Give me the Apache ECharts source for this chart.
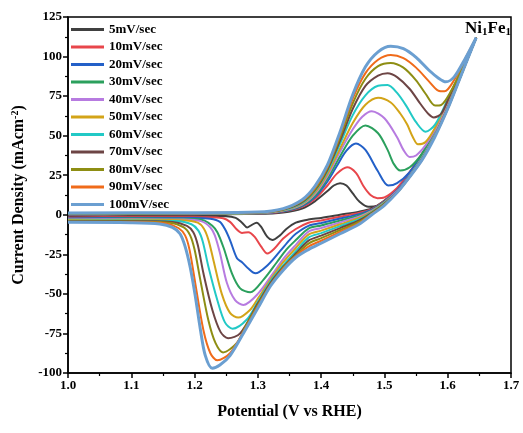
<!DOCTYPE html>
<html>
<head>
<meta charset="utf-8">
<script src="https://cdn.jsdelivr.net/npm/echarts@6/dist/echarts.min.js"></script>
<style>html,body{margin:0;padding:0;background:#fff}#c{width:523px;height:433px}</style>
</head>
<body>
<div id="c"></div>
<script>
const seriesNames = ['5mV/sec','10mV/sec','20mV/sec','30mV/sec','40mV/sec','50mV/sec','60mV/sec','70mV/sec','80mV/sec','90mV/sec','100mV/sec'];
const xTicks = [1.0,1.1,1.2,1.3,1.4,1.5,1.6,1.7];
const yTicks = [-100,-75,-50,-25,0,25,50,75,100,125];

// forward (anodic) scans [potential V, current density mA/cm2]
const fwd5 = [[1.00,0.2],[1.10,0.3],[1.20,0.3],[1.30,0.6],[1.34,1.5],[1.37,4],[1.39,8.5],[1.41,15],[1.42,18.5],[1.43,20],[1.44,18.5],[1.45,13.5],[1.46,8.5],[1.475,5],[1.49,6],[1.51,11.5],[1.53,21.5],[1.55,32.5],[1.57,45],[1.59,61],[1.61,80],[1.628,96],[1.645,112]];
const fwd10 = [[1.00,0.3],[1.20,0.4],[1.30,0.8],[1.34,2],[1.37,5],[1.39,10],[1.41,18.5],[1.425,26],[1.441,30],[1.455,26.5],[1.467,18],[1.478,12.5],[1.489,10.5],[1.50,11],[1.52,17],[1.54,27],[1.56,39],[1.58,53],[1.60,70],[1.62,89],[1.645,112]];
const fwd20 = [[1.00,0.4],[1.20,0.5],[1.30,0.9],[1.34,2.2],[1.37,5.5],[1.39,11],[1.41,21],[1.425,31],[1.44,40.5],[1.455,45],[1.47,41],[1.489,28],[1.506,18.5],[1.52,20],[1.54,27],[1.56,38.5],[1.58,53],[1.60,70],[1.62,89],[1.645,112]];
const fwd30 = [[1.00,0.5],[1.20,0.6],[1.30,1],[1.34,2.5],[1.37,6],[1.39,12],[1.41,23],[1.43,37],[1.45,50],[1.47,56.5],[1.49,51.5],[1.505,41],[1.515,32],[1.525,28],[1.54,30],[1.56,39],[1.58,53],[1.60,70],[1.62,89],[1.645,112]];
const fwd40 = [[1.00,0.6],[1.20,0.7],[1.30,1.1],[1.34,2.7],[1.37,6.5],[1.39,13],[1.41,24.5],[1.43,40],[1.45,54],[1.465,62],[1.48,65.5],[1.50,61],[1.52,49],[1.53,41],[1.54,36.5],[1.55,37.5],[1.565,44],[1.58,54],[1.60,71],[1.62,89.5],[1.645,112]];
const fwd50 = [[1.00,0.7],[1.20,0.8],[1.30,1.2],[1.34,2.9],[1.37,7],[1.39,14],[1.41,26],[1.43,42],[1.45,58],[1.47,69.5],[1.49,74],[1.51,71],[1.525,64],[1.536,57],[1.545,49],[1.553,44.5],[1.565,46],[1.58,55],[1.60,72],[1.62,90],[1.645,112]];
const fwd60 = [[1.00,0.8],[1.20,0.9],[1.30,1.3],[1.34,3.1],[1.37,7.5],[1.39,15],[1.41,27.5],[1.43,45],[1.45,63],[1.47,75.5],[1.49,81.5],[1.505,82],[1.52,77],[1.535,68.5],[1.55,58.5],[1.565,52.5],[1.58,57],[1.60,73],[1.62,90.5],[1.645,112]];
const fwd70 = [[1.00,0.9],[1.20,1],[1.30,1.4],[1.34,3.3],[1.37,8],[1.39,15.5],[1.41,28.5],[1.43,47],[1.45,67],[1.47,81.5],[1.49,88],[1.505,89.5],[1.52,87],[1.54,79.5],[1.557,70],[1.57,63.5],[1.578,61.5],[1.59,64],[1.605,77],[1.625,93],[1.645,112]];
const fwd80 = [[1.00,1],[1.20,1.1],[1.30,1.5],[1.34,3.5],[1.37,8.5],[1.39,16],[1.41,29.5],[1.43,49],[1.45,70.5],[1.47,86],[1.49,94],[1.51,96],[1.53,93],[1.55,85],[1.565,76.5],[1.58,69],[1.59,69.5],[1.605,78],[1.625,94],[1.645,112]];
const fwd90 = [[1.00,1.1],[1.20,1.2],[1.30,1.6],[1.34,3.7],[1.37,9],[1.39,17],[1.41,30.5],[1.43,51],[1.45,73.5],[1.47,89.5],[1.49,98],[1.51,101],[1.53,99],[1.55,93],[1.57,84.5],[1.585,78.5],[1.595,78],[1.61,85],[1.628,99],[1.645,112]];
const fwd100 = [[1.00,1.2],[1.20,1.3],[1.30,1.7],[1.34,3.9],[1.37,9.5],[1.39,18],[1.41,31.5],[1.43,52.5],[1.45,76],[1.47,93.5],[1.49,103],[1.51,106.5],[1.53,105],[1.55,99.5],[1.57,91.5],[1.585,86.5],[1.597,84],[1.61,87],[1.628,99],[1.645,112]];

// reverse (cathodic) scans
const rev5 = [[1.645,112],[1.62,88],[1.60,69],[1.58,52],[1.56,38],[1.54,26],[1.52,16],[1.50,9],[1.48,4],[1.46,2],[1.43,0],[1.40,-2],[1.38,-3],[1.36,-5],[1.345,-9],[1.335,-13],[1.323,-16],[1.315,-14],[1.305,-7.5],[1.298,-5],[1.29,-6.5],[1.283,-8],[1.275,-5],[1.265,-2],[1.25,-1],[1.20,-1],[1.10,-1],[1.00,-1.2]];
const rev10 = [[1.645,112],[1.62,88],[1.60,69],[1.58,52],[1.56,38],[1.54,26],[1.52,16],[1.50,8.7],[1.48,3.6],[1.46,1.2],[1.43,-1.2],[1.40,-3.6],[1.38,-5],[1.36,-9],[1.34,-15],[1.327,-21],[1.315,-24.5],[1.305,-20],[1.295,-14],[1.285,-11],[1.275,-11.5],[1.266,-9],[1.256,-4.5],[1.245,-2.2],[1.22,-1.5],[1.10,-1.5],[1.00,-1.8]];
const rev20 = [[1.645,112],[1.62,88],[1.60,68.5],[1.58,51.5],[1.56,37.5],[1.54,25.5],[1.52,15.5],[1.50,8.4],[1.48,3.2],[1.46,0.4],[1.43,-2.4],[1.40,-5.2],[1.38,-7],[1.36,-12],[1.35,-16],[1.335,-23],[1.315,-32],[1.296,-37],[1.285,-34],[1.275,-30],[1.267,-27.5],[1.256,-16],[1.248,-9],[1.24,-4.5],[1.225,-2.5],[1.20,-2],[1.10,-2],[1.00,-2.3]];
const rev30 = [[1.645,112],[1.62,87.5],[1.60,68.5],[1.58,51],[1.56,37],[1.54,25],[1.52,15],[1.50,8.1],[1.48,2.8],[1.46,-0.4],[1.43,-3.6],[1.40,-6.8],[1.38,-8.7],[1.36,-16],[1.345,-22],[1.33,-30],[1.309,-41],[1.288,-49],[1.272,-46.5],[1.259,-37],[1.246,-21],[1.236,-11],[1.228,-7],[1.215,-3.5],[1.20,-2.6],[1.10,-2.4],[1.00,-2.7]];
const rev40 = [[1.645,112],[1.62,87.5],[1.60,68],[1.58,51],[1.56,36.5],[1.54,25],[1.52,15],[1.50,7.8],[1.48,2.4],[1.46,-1.2],[1.43,-4.8],[1.40,-8.4],[1.38,-10.6],[1.36,-19],[1.34,-28],[1.324,-37],[1.30,-50],[1.277,-57],[1.264,-54],[1.251,-43],[1.24,-24],[1.232,-13],[1.225,-8],[1.21,-4],[1.18,-3],[1.10,-2.8],[1.00,-3]];
const rev50 = [[1.645,112],[1.62,87.5],[1.60,68],[1.58,50.5],[1.56,36],[1.54,24.5],[1.52,14.5],[1.50,7.5],[1.48,2],[1.46,-2],[1.43,-6],[1.40,-10],[1.38,-12.5],[1.36,-21],[1.34,-30],[1.32,-41],[1.30,-53],[1.288,-60],[1.269,-65],[1.256,-62],[1.243,-50],[1.23,-29],[1.222,-16],[1.215,-9],[1.205,-5],[1.18,-3.5],[1.10,-3.2],[1.00,-3.3]];
const rev60 = [[1.645,112],[1.62,87],[1.60,67.5],[1.58,50.5],[1.56,36],[1.54,24.5],[1.52,14.5],[1.50,7.2],[1.48,1.6],[1.46,-2.8],[1.43,-7.2],[1.40,-11.6],[1.38,-14.4],[1.36,-23],[1.34,-32],[1.32,-42],[1.30,-55],[1.283,-66],[1.26,-72],[1.248,-68],[1.236,-54],[1.222,-33],[1.213,-17],[1.206,-10],[1.195,-6],[1.17,-4],[1.10,-3.6],[1.00,-3.7]];
const rev70 = [[1.645,112],[1.62,87],[1.60,67.5],[1.58,50],[1.56,35.5],[1.54,24.5],[1.52,14.5],[1.50,6.9],[1.48,1.2],[1.46,-3.6],[1.43,-8.4],[1.40,-13.2],[1.38,-16.3],[1.36,-24.5],[1.34,-33],[1.32,-43],[1.30,-56],[1.272,-75],[1.253,-78],[1.241,-74],[1.228,-60],[1.214,-37],[1.205,-19],[1.198,-11],[1.188,-7],[1.165,-4.5],[1.10,-4],[1.00,-4]];
const rev80 = [[1.645,112],[1.62,87],[1.60,67],[1.58,50],[1.56,35.5],[1.54,24],[1.52,14],[1.50,6.6],[1.48,0.8],[1.46,-4.4],[1.43,-9.6],[1.40,-14.8],[1.38,-18.2],[1.36,-25.5],[1.34,-33.5],[1.32,-44],[1.30,-57],[1.28,-71],[1.267,-81],[1.245,-87],[1.233,-81],[1.222,-67],[1.209,-41],[1.20,-22],[1.193,-13],[1.183,-8],[1.16,-5],[1.10,-4.3],[1.00,-4.3]];
const rev90 = [[1.645,112],[1.62,87],[1.60,67],[1.58,50],[1.56,35],[1.54,24],[1.52,14],[1.50,6.3],[1.48,0.4],[1.46,-5.2],[1.43,-10.8],[1.40,-16.4],[1.38,-20.1],[1.36,-26],[1.34,-34],[1.32,-44.5],[1.30,-58],[1.28,-72],[1.256,-87.5],[1.236,-92],[1.225,-87.5],[1.214,-73],[1.201,-43],[1.192,-22],[1.185,-13],[1.175,-8.5],[1.155,-5.5],[1.10,-4.6],[1.00,-4.5]];
const rev100 = [[1.645,112],[1.62,87],[1.60,67],[1.58,49.5],[1.56,35],[1.54,24],[1.52,14],[1.50,6],[1.48,0],[1.46,-6],[1.43,-12],[1.40,-18],[1.38,-22],[1.36,-27],[1.34,-35],[1.32,-45],[1.30,-59],[1.277,-75],[1.256,-89],[1.24,-95],[1.228,-97],[1.217,-89],[1.209,-72],[1.201,-51],[1.193,-33],[1.185,-20],[1.177,-12],[1.165,-8],[1.145,-5.8],[1.10,-5],[1.00,-4.8]];

const forwardScans = [fwd5,fwd10,fwd20,fwd30,fwd40,fwd50,fwd60,fwd70,fwd80,fwd90,fwd100];
const reverseScans = [rev5,rev10,rev20,rev30,rev40,rev50,rev60,rev70,rev80,rev90,rev100];
const colors = ['#404040','#e8464b','#2360c8','#2ba05d','#b77be0','#d3a418','#22c9c6','#6d4545','#8e8e13','#f06b1a','#6b9fd1'];

const FONT = '"Liberation Serif","Times New Roman",serif';
const chart = echarts.init(document.getElementById('c'), null, {renderer:'canvas'});
const series = seriesNames.map((n,i)=>({
  name:n, type:'line', data: forwardScans[i].concat(reverseScans[i]),
  symbol:'none', showSymbol:false, smooth:0.3, color:colors[i],
  lineStyle:{width: i===10 ? 3 : 2, color:colors[i]}
}));
chart.setOption({
  animation:false,
  backgroundColor:'#fff',
  grid:{left:68,right:12,top:17,bottom:60,show:true,borderColor:'#000',borderWidth:1.5,backgroundColor:'transparent'},
  legend:{
    data:seriesNames, orient:'vertical', left:66, top:18, icon:'rect', itemWidth:33, itemHeight:3, itemGap:4.5,
    textStyle:{fontFamily:FONT,fontWeight:'bold',fontSize:13,color:'#000',lineHeight:13},
    selectedMode:false
  },
  xAxis:{
    type:'value', min:1.0, max:1.7, interval:0.1,
    name:'Potential (V vs RHE)', nameLocation:'middle', nameGap:31,
    nameTextStyle:{fontFamily:FONT,fontWeight:'bold',fontSize:16,color:'#000'},
    axisLine:{show:true,onZero:false,lineStyle:{color:'#000',width:1.5}},
    axisTick:{show:true,length:5,lineStyle:{color:'#000',width:1.5}},
    minorTick:{show:true,splitNumber:2,length:3,lineStyle:{color:'#000',width:1.2}},
    splitLine:{show:false},
    axisLabel:{fontFamily:FONT,fontWeight:'bold',fontSize:13,color:'#000',margin:6,formatter:v=>v.toFixed(1)}
  },
  yAxis:{
    type:'value', min:-100, max:125, interval:25,
    name:'Current Density (mAcm{sup|-2})', nameLocation:'middle', nameGap:38,
    nameTextStyle:{fontFamily:FONT,fontWeight:'bold',fontSize:16,color:'#000',
      rich:{sup:{fontFamily:FONT,fontWeight:'bold',fontSize:10,color:'#000',verticalAlign:'top',padding:[0,0,8,0]}}},
    axisLine:{show:true,onZero:false,lineStyle:{color:'#000',width:1.5}},
    axisTick:{show:true,length:5,lineStyle:{color:'#000',width:1.5}},
    minorTick:{show:true,splitNumber:2,length:3,lineStyle:{color:'#000',width:1.2}},
    splitLine:{show:false},
    axisLabel:{fontFamily:FONT,fontWeight:'bold',fontSize:13,color:'#000',margin:6}
  },
  graphic:[{
    type:'text', right:12, top:20,
    style:{text:'Ni{s|1}Fe{s|1}', fontFamily:FONT, fontWeight:'bold', fontSize:17, fill:'#000',
      rich:{s:{fontFamily:FONT,fontWeight:'bold',fontSize:11,fill:'#000',padding:[8,0,0,0]}}}
  }],
  series: series
});
</script>
</body>
</html>
